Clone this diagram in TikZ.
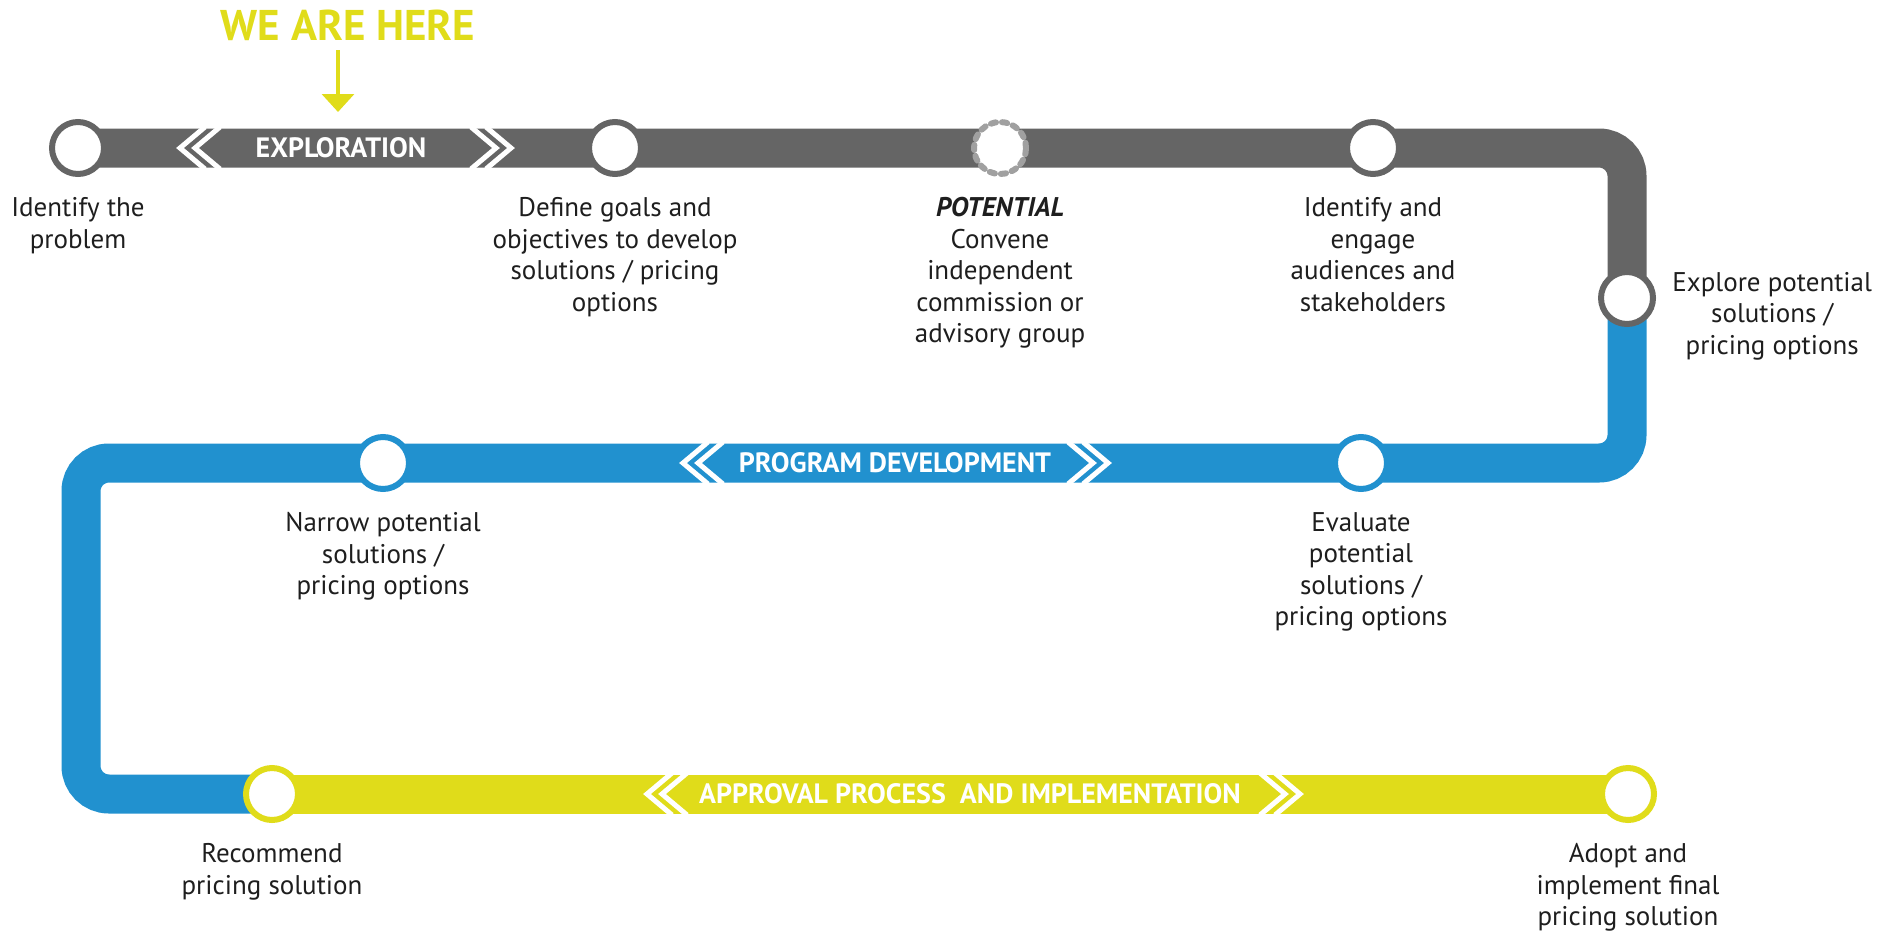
\documentclass[tikz,border=0pt]{standalone}
\usepackage{fontspec}
\setmainfont{PT Sans}
\usetikzlibrary{positioning,arrows.meta,backgrounds}
\definecolor{linegray}{HTML}{656565}
\definecolor{lineblue}{HTML}{2191CF}
\definecolor{lineyellow}{HTML}{E0DC1A}
\definecolor{dotgray}{HTML}{A0A0A0}
\definecolor{textgray}{HTML}{1E1E1E}
\tikzstyle{station} = [circle, draw, fill=white, line width=3pt,
    minimum size=26pt, inner sep=0pt]
\tikzstyle{graystation} = [station, draw=linegray]
\tikzstyle{bluestation} = [station, draw=lineblue]
\tikzstyle{yellowstation} = [station, draw=lineyellow]
\tikzstyle{potentialstation} = [station, draw=dotgray, line cap=round,
    dash pattern=on 2.6pt off 3pt]
\tikzstyle{stationlabel} = [text=textgray, align=center, inner sep=0pt,
    font=\fontsize{13.5}{15.75}\selectfont]
\tikzstyle{phaselabel} = [text=white, inner sep=0pt,
    font=\fontsize{14}{16}\selectfont\bfseries]
\tikzstyle{trackline} = [draw, line width=19.5pt, rounded corners=14pt]
\tikzstyle{chevron} = [draw=white, line width=2.5pt, line join=miter]
\tikzstyle{herearrow} = [draw=lineyellow, line width=1.7pt,
    -{Triangle[width=16pt,length=9pt]}]

\begin{document}
\begin{tikzpicture}[x=0.5pt, y=-0.5pt]
    \useasboundingbox (0,0) rectangle (1883,937);

    % Place stations
    \node [graystation] (identify) at (78,148) {};
    \node [graystation] (define) at (615,148) {};
    \node [potentialstation] (convene) at (1000,148) {};
    \node [graystation] (engage) at (1373,148) {};
    \node [graystation] (explore) at (1627,298) {};
    \node [bluestation] (evaluate) at (1361,463) {};
    \node [bluestation] (narrow) at (383,463) {};
    \node [yellowstation] (recommend) at (272,794) {};
    \node [yellowstation] (adopt) at (1628,794) {};
    \coordinate (lefttop) at (81,463);
    \coordinate (leftbottom) at (81,794);

    % Station labels
    \node [stationlabel, below=10pt of identify] (identifylbl) {Identify the\\problem};
    \node [stationlabel, below=10pt of define] (definelbl) {Define goals and\\objectives to develop\\solutions / pricing\\options};
    \node [stationlabel, below=10pt of convene] (convenelbl) {\textbf{\textit{POTENTIAL}}\\Convene\\independent\\commission or\\advisory group};
    \node [stationlabel, below=10pt of engage] (engagelbl) {Identify and\\engage\\audiences and\\stakeholders};
    \node [stationlabel, right=8pt of explore, yshift=-9pt] (explorelbl) {Explore potential\\solutions /\\pricing options};
    \node [stationlabel, below=10pt of evaluate] (evaluatelbl) {Evaluate\\potential\\solutions /\\pricing options};
    \node [stationlabel, below=10pt of narrow] (narrowlbl) {Narrow potential\\solutions /\\pricing options};
    \node [stationlabel, below=10pt of recommend] (recommendlbl) {Recommend\\pricing solution};
    \node [stationlabel, below=10pt of adopt] (adoptlbl) {Adopt and\\implement final\\pricing solution};

    % Phase names
    \node [phaselabel] (exploration) at (341,148) {EXPLORATION};
    \node [phaselabel] (development) at (895,463) {PROGRAM DEVELOPMENT};
    \node [phaselabel] (approval) at (970,794) {APPROVAL PROCESS\ \ AND IMPLEMENTATION};

    % We are here
    \node [text=lineyellow, inner sep=0pt, font=\fontsize{21.5}{24}\selectfont\bfseries] (here) at (348,25) {WE ARE HERE};
    \coordinate (arrowtop) at (338,50);
    \coordinate (arrowtip) at (338,112);
    \path [herearrow] (arrowtop) -- (arrowtip);

    % Draw tracks
    \begin{pgfonlayer}{background}
    \path [trackline, linegray] (identify.center) -- (identify.center -| explore.center) -- (explore.center);
    \path [trackline, lineblue] (explore.center) |- (evaluate.center) -- (lefttop) -- (leftbottom) -- (recommend.center);
    \path [trackline, lineyellow] (recommend.center) -- (adopt.center);
    \foreach \ax/\tx/\ay in {205/180/148, 220/195/148, 471/496/148, 486/511/148,
        708/683/463, 723/698/463, 1068/1093/463, 1083/1108/463,
        672/647/794, 687/662/794, 1260/1285/794, 1275/1300/794}
        \path [chevron] (\ax,\ay-21) -- (\tx,\ay) -- (\ax,\ay+21);
    \end{pgfonlayer}
\end{tikzpicture}
\end{document}
